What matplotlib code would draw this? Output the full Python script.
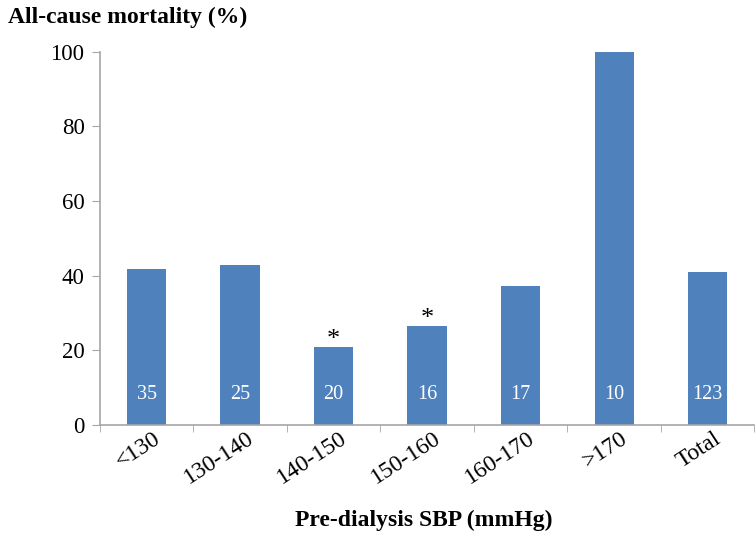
import numpy as np
import matplotlib.pyplot as plt
from matplotlib.transforms import ScaledTranslation

categories = ['<130', '130-140', '140-150', '150-160', '160-170', '>170', 'Total']
mortality = [41.7, 42.8, 20.9, 26.6, 37.3, 100.0, 41.0]
counts = [35, 25, 20, 16, 17, 10, 123]
significant = [False, False, True, True, False, False, False]

plt.rcParams['font.family'] = ['Liberation Serif', 'DejaVu Serif']

fig = plt.figure(figsize=(7.56, 5.34), dpi=100)
ax = fig.add_axes([0.132, 0.204, 0.866, 0.699])

blue = '#4F81BD'
grey = '#A6A6A6'
x = np.arange(len(categories))
ax.bar(x, mortality, width=0.42, color=blue)

for xi, n in zip(x, counts):
    ax.text(xi, 8.3, str(n), color='white', ha='center', va='center', fontsize=14.5)
for xi, v, s in zip(x, mortality, significant):
    if s:
        ax.text(xi, v - 1.0, '*', ha='center', va='bottom', fontsize=19)

ax.set_xlim(-0.5, len(categories) - 0.5)
ax.set_ylim(0, 100)
ax.set_yticks(np.arange(0, 101, 20))
ax.tick_params(axis='y', labelsize=16.5, length=6, color=grey, pad=5)

ax.set_xticks(x)
ax.set_xticklabels(categories, rotation=33, ha='right', rotation_mode='anchor', fontsize=17)
ax.tick_params(axis='x', length=0, pad=2)
shift = ScaledTranslation(0.06, 0, fig.dpi_scale_trans)
for lbl in ax.get_xticklabels():
    lbl.set_transform(lbl.get_transform() + shift)
ax.set_xticks(np.arange(-0.5, len(categories)), minor=True)
ax.tick_params(axis='x', which='minor', length=5, color=grey)

for side in ['top', 'right']:
    ax.spines[side].set_visible(False)
for side in ['left', 'bottom']:
    ax.spines[side].set_color(grey)
    ax.spines[side].set_linewidth(1.2)

fig.text(0.011, 0.968, 'All-cause mortality (%)', fontsize=17, fontweight='bold', ha='left', va='center')
fig.text(0.56, 0.025, 'Pre-dialysis SBP (mmHg)', fontsize=17, fontweight='bold', ha='center', va='center')

fig.savefig('out.png', dpi=100)
